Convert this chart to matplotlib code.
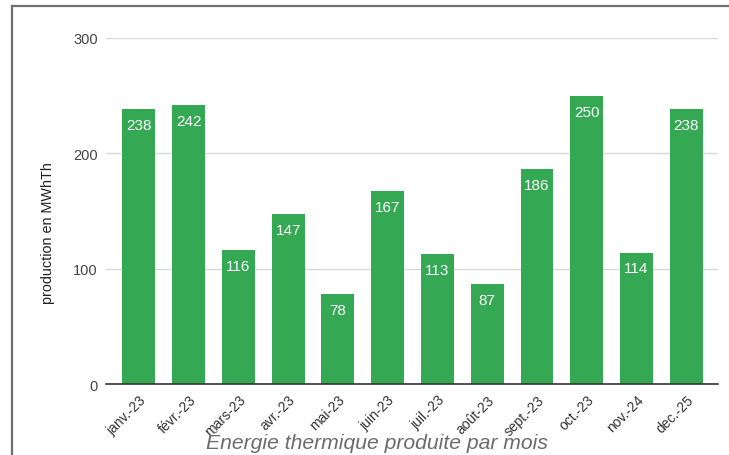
import matplotlib
matplotlib.use("Agg")
import matplotlib.pyplot as plt
from matplotlib.lines import Line2D

# monthly values
mois = ["janv.-23", "févr.-23", "mars-23", "avr.-23", "mai-23", "juin-23",
        "juil.-23", "août-23", "sept.-23", "oct.-23", "nov.-24", "dec.-25"]
production = [238, 242, 116, 147, 78, 167, 113, 87, 186, 250, 114, 238]
yticks = [0, 100, 200, 300]

plt.rcParams['font.family'] = ['Liberation Sans', 'DejaVu Sans']

fig = plt.figure(figsize=(7.29, 4.56), dpi=100)
ax = fig.add_axes([0.1454, 0.1557, 0.8396, 0.7588])

x = list(range(len(mois)))
bars = ax.bar(x, production, width=0.66, color='#34a853', zorder=3)

# value labels inside bars
for xi, v in zip(x, production):
    ax.annotate(str(v), (xi, v), xytext=(0, -11.5), textcoords='offset points',
                ha='center', va='center', color='white', fontsize=11, zorder=4)

ax.set_xlim(-0.66, 11.64)
ax.set_ylim(0, 300)
ax.set_yticks(yticks)
ax.set_yticklabels([str(t) for t in yticks], fontsize=10.5, color='#444444')
ax.set_xticks(x)
ax.set_xticklabels(mois, rotation=45, ha='right', rotation_mode='anchor',
                   fontsize=10, color='#333333')
ax.tick_params(axis='x', length=0, pad=6)
ax.tick_params(axis='y', length=0, pad=6)
ax.yaxis.grid(True, color='#d9d9d9', linewidth=1, zorder=0)
for s in ['top', 'right', 'left']:
    ax.spines[s].set_visible(False)
ax.spines['bottom'].set_color('#333333')
ax.spines['bottom'].set_linewidth(1.2)
ax.spines['bottom'].set_zorder(5)

ax.set_ylabel("production en MWhTh", fontsize=10.4, color='#222222')
ax.yaxis.set_label_coords(-0.083, 0.439)

fig.text(0.517, 0.031, "Énergie thermique produite par mois", ha='center',
         va='center', fontsize=15.2, style='italic', color='#6b6b6b')

# screenshot frame (left and top edges)
fig.add_artist(Line2D([12/729, 12/729], [0, 1 - 7/456], color='#707070', linewidth=1.6))
fig.add_artist(Line2D([12/729, 1], [1 - 7/456, 1 - 7/456], color='#707070', linewidth=1.6))

fig.savefig("out.png", dpi=100)
